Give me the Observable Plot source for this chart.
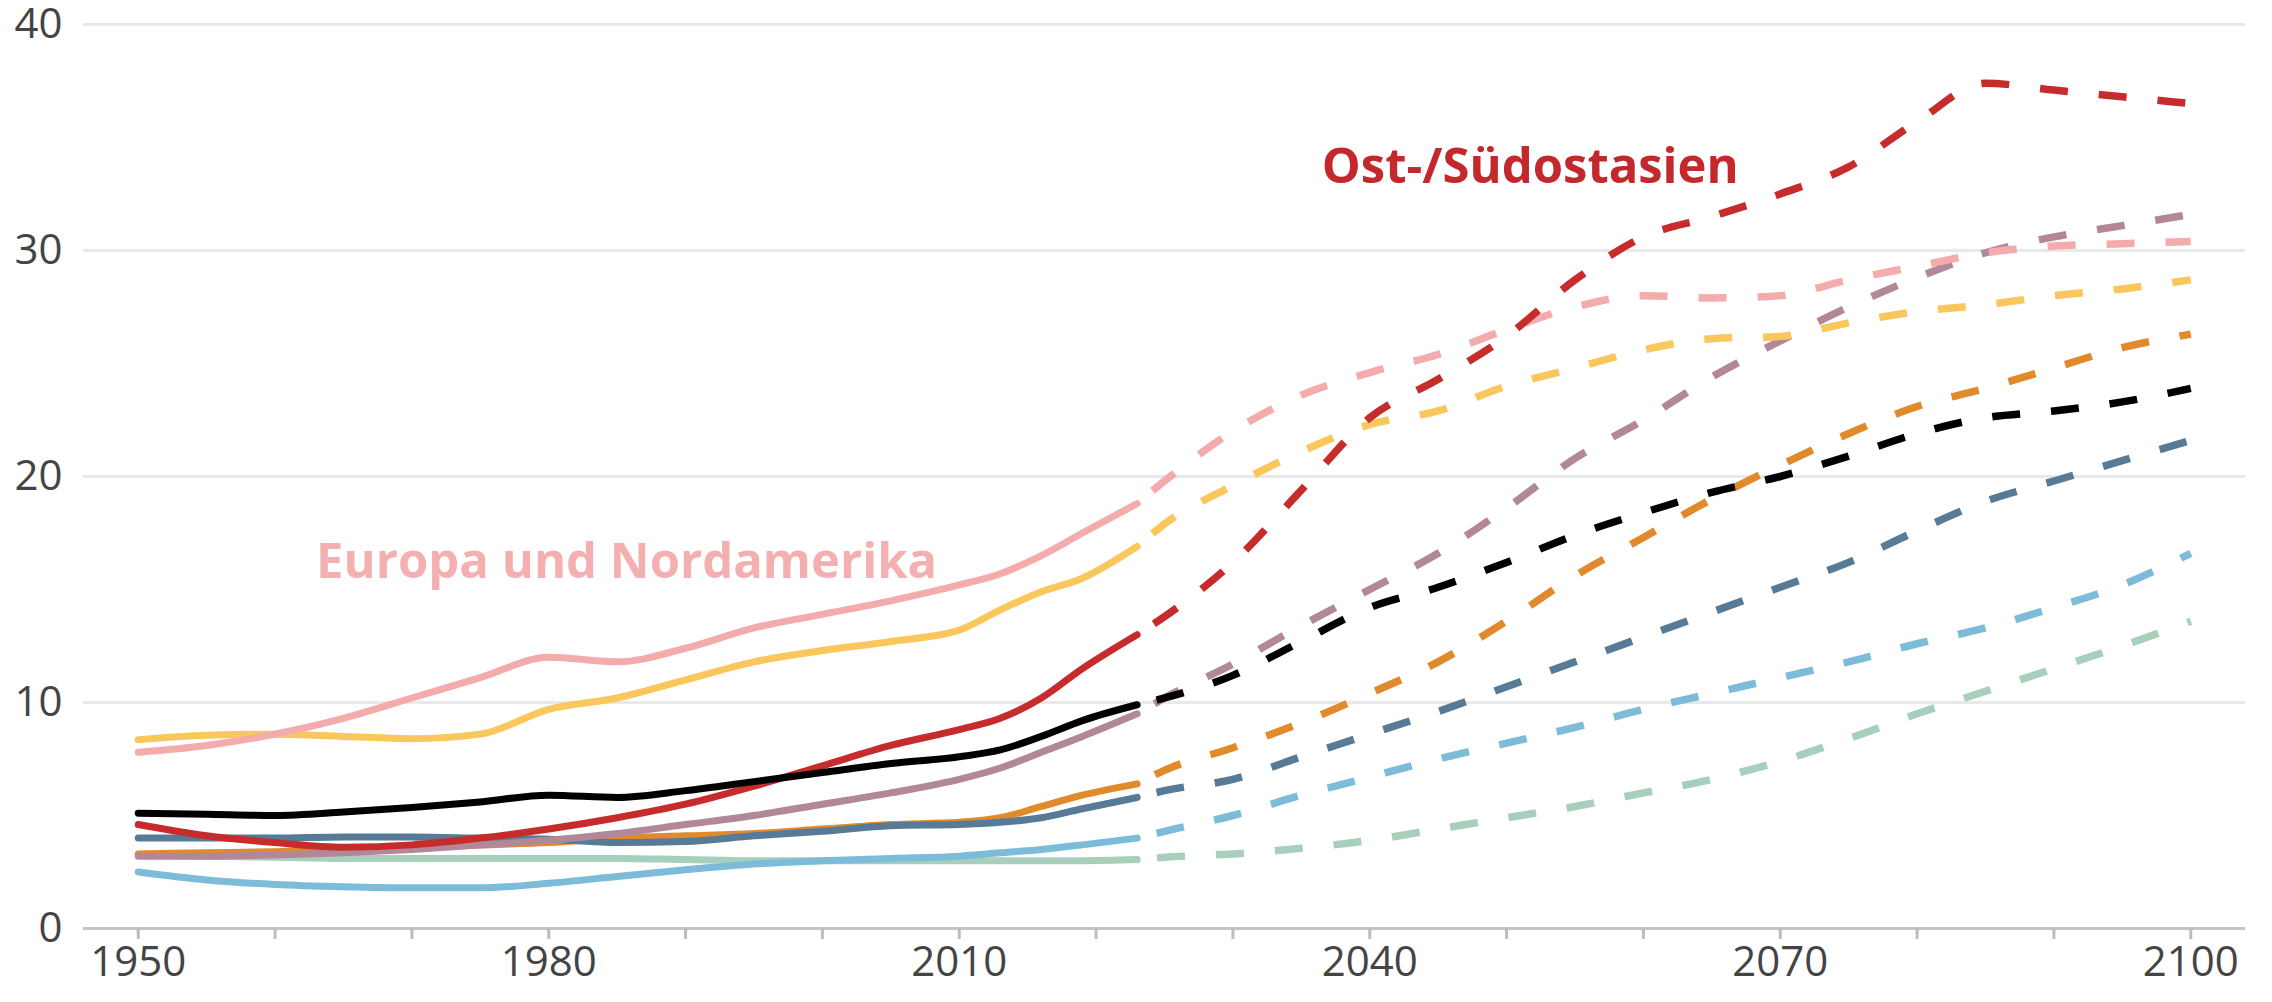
<!DOCTYPE html>
<html>
<head>
<meta charset="utf-8">
<script src="https://cdn.jsdelivr.net/npm/d3@7"></script>
<script src="https://cdn.jsdelivr.net/npm/@observablehq/plot@0.6"></script>
<style>
  html, body { margin: 0; padding: 0; background: #fff; }
  #chart { width: 2272px; height: 1002px; }
</style>
</head>
<body>
<div id="chart"></div>
<script>
// ---- data ----
const histYears = [1950,1955,1960,1965,1970,1975,1980,1985,1990,1995,2000,2005,2010,2013,2016,2019,2023];
const projYears = [2023,2025,2030,2035,2040,2045,2050,2055,2060,2065,2070,2075,2080,2085,2090,2095,2100];

const europaHist   = [7.8,8.1,8.6,9.3,10.2,11.1,12.0,11.8,12.4,13.3,13.9,14.5,15.2,15.7,16.5,17.5,18.8];
const europaProj   = [18.8,19.8,22.0,23.6,24.6,25.4,26.5,27.5,28.0,27.9,28.0,28.7,29.3,29.9,30.2,30.3,30.4];
const yellowHist   = [8.35,8.55,8.6,8.5,8.4,8.6,9.7,10.2,11.0,11.8,12.3,12.7,13.2,14.1,14.9,15.5,16.9];
const yellowProj   = [16.9,17.9,19.6,21.1,22.3,22.9,24.0,24.8,25.6,26.1,26.2,26.8,27.3,27.6,28.0,28.3,28.7];
const ostHist      = [4.6,4.1,3.8,3.6,3.7,4.0,4.4,4.9,5.5,6.3,7.2,8.1,8.8,9.3,10.2,11.5,13.0];
const ostProj      = [13.0,13.8,16.2,19.4,22.6,24.3,26.2,28.7,30.6,31.5,32.5,33.7,35.7,37.4,37.1,36.8,36.5];
const worldHist    = [5.1,5.05,5.0,5.15,5.35,5.6,5.9,5.8,6.1,6.5,6.9,7.3,7.6,7.9,8.5,9.2,9.9];
const worldProj    = [9.9,10.2,11.2,12.7,14.2,15.1,16.2,17.4,18.4,19.3,20.0,20.9,21.9,22.6,22.9,23.3,23.9];
const mauveHist    = [3.2,3.2,3.25,3.35,3.5,3.7,3.9,4.2,4.6,5.0,5.5,6.0,6.6,7.1,7.8,8.5,9.5];
const mauveProj    = [9.5,10.2,11.7,13.4,15.0,16.6,18.6,20.8,22.5,24.4,26.0,27.5,28.8,29.9,30.6,31.1,31.6];
const orangeHist   = [3.3,3.35,3.4,3.5,3.6,3.7,3.8,4.0,4.1,4.2,4.4,4.6,4.7,4.9,5.4,5.9,6.4];
const orangeProj   = [6.4,7.0,8.0,9.1,10.4,11.8,13.6,15.6,17.3,19.0,20.5,21.9,23.1,23.9,24.8,25.7,26.3];
const slateHist    = [4.0,4.0,4.0,4.05,4.05,4.0,3.95,3.8,3.85,4.1,4.3,4.55,4.6,4.7,4.9,5.3,5.8];
const slateProj    = [5.8,6.1,6.6,7.6,8.6,9.6,10.7,11.8,12.9,14.0,15.1,16.2,17.6,18.9,19.8,20.7,21.6];
const lightHist    = [2.5,2.15,1.95,1.85,1.8,1.8,2.0,2.3,2.6,2.85,3.0,3.1,3.2,3.35,3.5,3.7,4.0];
const lightProj    = [4.0,4.3,5.0,5.9,6.7,7.5,8.2,8.9,9.7,10.4,11.1,11.8,12.6,13.3,14.2,15.2,16.6];
const greenHist    = [3.25,3.2,3.15,3.1,3.1,3.1,3.1,3.1,3.05,3.0,3.0,3.0,3.0,3.0,3.0,3.0,3.05];
const greenProj    = [3.05,3.15,3.3,3.55,3.9,4.4,4.9,5.4,6.0,6.6,7.4,8.4,9.5,10.5,11.5,12.5,13.6];

const yTicks = [0,10,20,30,40];
const xLabelTicks = [1950,1980,2010,2040,2070,2100];
const xMinorTicks = d3.range(1950, 2101, 10);

const labelEuropa = {text: "Europa und Nordamerika", year: 1963.0, value: 15.5};
const labelOst = {text: "Ost-/Südostasien", year: 2036.5, value: 33.0};

// series in drawing order (bottom first)
const series = [
  {name: "green",  color: "#a7cfbc", hist: greenHist,  proj: greenProj},
  {name: "light",  color: "#7dbcd9", hist: lightHist,  proj: lightProj},
  {name: "orange", color: "#e08a2c", hist: orangeHist, proj: orangeProj},
  {name: "slate",  color: "#577a96", hist: slateHist,  proj: slateProj},
  {name: "mauve",  color: "#b28899", hist: mauveHist,  proj: mauveProj},
  {name: "yellow", color: "#f9c75c", hist: yellowHist, proj: yellowProj},
  {name: "europa", color: "#f4abab", hist: europaHist, proj: europaProj},
  {name: "ost",    color: "#c72c2c", hist: ostHist,    proj: ostProj},
  {name: "world",  color: "#000000", hist: worldHist,  proj: worldProj}
];

const lineMarks = [];
for (const s of series) {
  const h = histYears.map((y, i) => ({year: y, value: s.hist[i]}));
  const p = projYears.map((y, i) => ({year: y, value: s.proj[i]}));
  lineMarks.push(Plot.line(h, {x: "year", y: "value", stroke: s.color, strokeWidth: 7, curve: "monotone-x"}));
  lineMarks.push(Plot.line(p, {x: "year", y: "value", stroke: s.color, strokeWidth: 7.5, curve: "monotone-x",
    strokeDasharray: "28,31", strokeDashoffset: 39, strokeLinecap: "butt"}));
}

const chart = Plot.plot({
  width: 2272,
  height: 1002,
  marginLeft: 83,
  marginRight: 27,
  marginTop: 24,
  marginBottom: 74,
  style: {fontFamily: "'Open Sans', 'Noto Sans', sans-serif", fontSize: "42px", color: "#444", background: "#fff"},
  x: {domain: [1946, 2104]},
  y: {domain: [0, 40]},
  marks: [
    Plot.ruleY([10,20,30,40], {stroke: "#e9e9e9", strokeWidth: 3}),
    Plot.ruleY([0], {stroke: "#c4c4c4", strokeWidth: 3}),
    Plot.axisX({ticks: xMinorTicks, tickSize: 11, tickFormat: () => "", stroke: "#bdbdbd", strokeWidth: 3, label: null}),
    Plot.axisX({ticks: xLabelTicks, tickSize: 0, tickPadding: 18, tickFormat: d => String(d), label: null}),
    Plot.axisY({ticks: yTicks, tickSize: 0, tickPadding: 21, label: null}),
    ...lineMarks,
    Plot.text([labelEuropa], {x: "year", y: "value", text: "text", textAnchor: "start", lineAnchor: "bottom",
      fill: "#f4b0b0", fontSize: 49, fontWeight: "bold"}),
    Plot.text([labelOst], {x: "year", y: "value", text: "text", textAnchor: "start", lineAnchor: "bottom",
      fill: "#c2282c", fontSize: 49, fontWeight: "bold"})
  ]
});
document.getElementById("chart").appendChild(chart);
</script>
</body>
</html>
